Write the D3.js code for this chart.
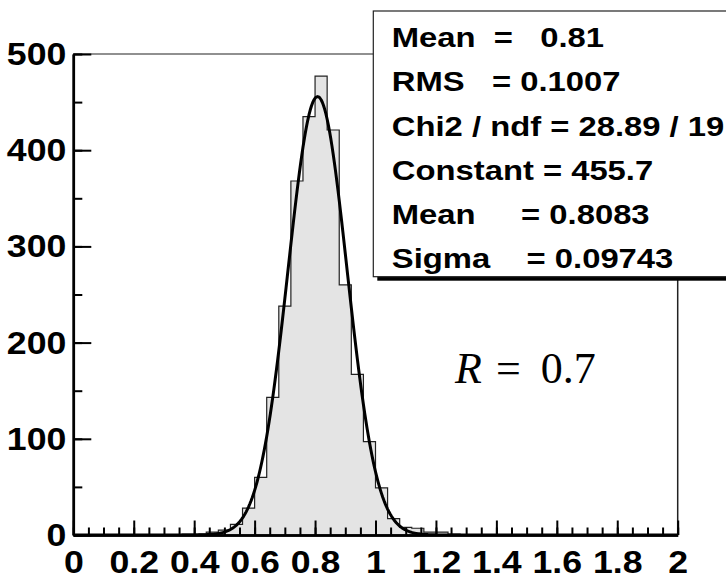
<!DOCTYPE html>
<html>
<head>
<meta charset="utf-8">
<script src="https://cdn.jsdelivr.net/npm/d3@7"></script>
<style>
  body { margin: 0; background: #fff; }
  svg { display: block; }
</style>
</head>
<body>
<div id="chart"></div>
<script>
// histogram: 50 bins between 0 and 2
var binLow = 0, binHigh = 2;
var counts = [
    0, 0, 0, 0, 0, 0, 0, 0, 0, 1,
    1, 3, 5, 11, 28, 60, 143, 238, 368, 435,
    477, 421, 260, 167, 97, 49, 17, 8, 7, 3,
    3, 1, 0, 0, 0, 0, 0, 0, 0, 0,
    0, 0, 0, 0, 0, 0, 0, 0, 0, 0
];
// gaus fit: constant, mean, sigma
var fitParams = [455.7, 0.8083, 0.09743];

var xTicks = [0, 0.2, 0.4, 0.6, 0.8, 1, 1.2, 1.4, 1.6, 1.8, 2];
var xTickLabels = ["0", "0.2", "0.4", "0.6", "0.8", "1", "1.2", "1.4", "1.6", "1.8", "2"];
var yTicks = [0, 100, 200, 300, 400, 500];
var yTickLabels = ["0", "100", "200", "300", "400", "500"];

var statsLines = [
    "Mean  =   0.81",
    "RMS   = 0.1007",
    "Chi2 / ndf = 28.89 / 19",
    "Constant = 455.7",
    "Mean     = 0.8083",
    "Sigma    = 0.09743"
];
var noteParts = ["R", "=", "0.7"];

var W = 726, H = 580;
var frame = {left: 73.3, right: 677.7, top: 54, bottom: 535};
var font = "'Liberation Sans', Arial, Helvetica, sans-serif";
var wide = 1.15; // glyphs in the picture are a bit wider than helvetica

var svg = d3.select("#chart").append("svg")
    .attr("width", W).attr("height", H);

var x = d3.scaleLinear().domain([binLow, binHigh]).range([frame.left, frame.right]);
var y = d3.scaleLinear().domain([0, 500]).range([frame.bottom, frame.top]);

function stretch(sel, k) {
    sel.each(function(){
        var w = this.getComputedTextLength();
        d3.select(this).attr("textLength", w * k).attr("lengthAdjust", "spacingAndGlyphs");
    });
}

svg.append("clipPath").attr("id", "fr").append("rect")
    .attr("x", frame.left).attr("y", frame.top)
    .attr("width", frame.right - frame.left).attr("height", frame.bottom - frame.top);

// histogram
var bw = (binHigh - binLow) / counts.length;
var steps = counts.map(function(c, i){ return [binLow + i * bw, c]; });
steps.push([binHigh, counts[counts.length - 1]]);

svg.append("path")
    .datum(steps)
    .attr("d", d3.area().curve(d3.curveStepAfter)
        .x(function(d){ return x(d[0]); })
        .y0(y(0))
        .y1(function(d){ return y(d[1]); }))
    .style("fill", "#e4e4e4");

svg.append("path")
    .datum(steps)
    .attr("d", d3.line().curve(d3.curveStepAfter)
        .x(function(d){ return x(d[0]); })
        .y(function(d){ return y(d[1]); }))
    .style("fill", "none")
    .style("stroke", "#222")
    .style("stroke-width", 1.2);

// fit function
var fx = d3.range(binLow, binHigh + 0.0001, 0.004);
var fit = fx.map(function(v){
    var t = (v - fitParams[1]) / fitParams[2];
    return [v, fitParams[0] * Math.exp(-0.5 * t * t)];
});
svg.append("path")
    .datum(fit)
    .attr("clip-path", "url(#fr)")
    .attr("d", d3.line()
        .x(function(d){ return x(d[0]); })
        .y(function(d){ return y(d[1]); }))
    .style("fill", "none")
    .style("stroke", "#000")
    .style("stroke-width", 3)
    .style("stroke-linejoin", "round");

// frame top / right
svg.append("line")
    .attr("x1", frame.left).attr("x2", frame.right)
    .attr("y1", frame.top).attr("y2", frame.top)
    .style("stroke", "#222").style("stroke-width", 1.2);
svg.append("line")
    .attr("x1", frame.right).attr("x2", frame.right)
    .attr("y1", frame.top).attr("y2", frame.bottom)
    .style("stroke", "#222").style("stroke-width", 1.5);

// x axis (ticks pointing up)
var xMinor = d3.range(0, 41).map(function(i){ return i * 0.05; });
var gxm = svg.append("g").attr("transform", "translate(0," + frame.bottom + ")")
    .call(d3.axisBottom(x).tickValues(xMinor).tickSize(-7.5).tickSizeOuter(0).tickFormat(""));
var gx = svg.append("g").attr("transform", "translate(0," + frame.bottom + ")")
    .call(d3.axisBottom(x).tickValues(xTicks).tickSize(-14.5).tickSizeOuter(0)
        .tickFormat(function(d, i){ return xTickLabels[i]; }));

// y axis (ticks pointing right)
var yMinor = d3.range(0, 11).map(function(i){ return i * 50; });
var gym = svg.append("g").attr("transform", "translate(" + frame.left + ",0)")
    .call(d3.axisLeft(y).tickValues(yMinor).tickSize(-9).tickSizeOuter(0).tickFormat(""));
var gy = svg.append("g").attr("transform", "translate(" + frame.left + ",0)")
    .call(d3.axisLeft(y).tickValues(yTicks).tickSize(-18).tickSizeOuter(0)
        .tickFormat(function(d, i){ return yTickLabels[i]; }));

[gxm, gx, gym, gy].forEach(function(g){
    g.selectAll(".tick line").style("stroke", "#000").style("stroke-width", 2);
    g.select(".domain").style("stroke", "#000").style("stroke-width", 2.5);
});

gx.selectAll("text")
    .attr("y", 38).attr("dy", 0)
    .style("font-family", font).style("font-weight", "bold")
    .style("font-size", "31px").style("fill", "#000");
gy.selectAll("text")
    .attr("x", -7).attr("dy", "0.34em")
    .style("font-family", font).style("font-weight", "bold")
    .style("font-size", "31px").style("fill", "#000");
stretch(gx.selectAll("text"), wide);
stretch(gy.selectAll("text"), wide);

// stats box
var box = {x: 373.3, y: 11, w: 420, h: 265.7};
svg.append("rect")
    .attr("x", box.x + 4).attr("y", box.y + 4)
    .attr("width", box.w).attr("height", box.h)
    .style("fill", "#000");
svg.append("rect")
    .attr("x", box.x).attr("y", box.y)
    .attr("width", box.w).attr("height", box.h)
    .style("fill", "#fff").style("stroke", "#222").style("stroke-width", 1.2);

var lineStep = box.h / statsLines.length;
var st = svg.append("g").selectAll("text")
    .data(statsLines).enter().append("text")
    .attr("x", box.x + 18.5)
    .attr("y", function(d, i){ return box.y + 36 + i * lineStep; })
    .style("white-space", "pre")
    .style("font-family", font).style("font-weight", "bold")
    .style("font-size", "28.5px").style("fill", "#000")
    .text(function(d){ return d; });
stretch(st, wide);

// annotation
var note = svg.append("text")
    .attr("x", 455).attr("y", 383)
    .style("font-family", "'Liberation Serif', 'Times New Roman', serif")
    .style("font-size", "44px").style("fill", "#000");
note.append("tspan").style("font-style", "italic").text(noteParts[0]);
note.append("tspan").attr("dx", 14).text(noteParts[1]);
note.append("tspan").attr("dx", 20).text(noteParts[2]);
</script>
</body>
</html>
